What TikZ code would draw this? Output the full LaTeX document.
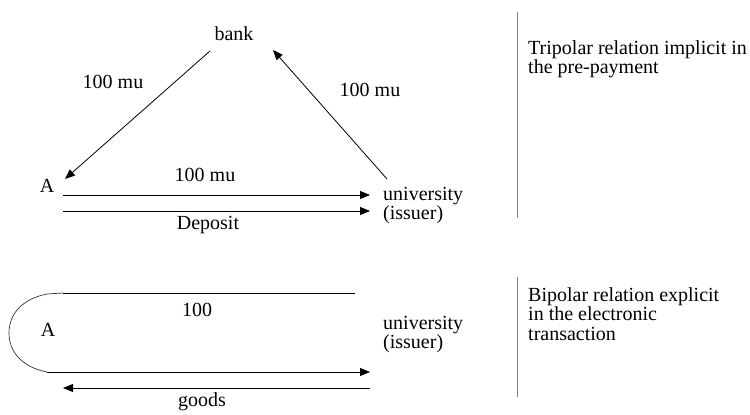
\documentclass[tikz,border=0pt]{standalone}
\usepackage{fontspec}
\setmainfont{Liberation Serif}
\usetikzlibrary{arrows.meta}

\tikzset{
	flow/.style={-{Triangle[length=10pt,width=8pt]}, line width=0.8pt},
	plain/.style={line width=0.8pt},
	sep/.style={line width=1pt, gray},
	lbl/.style={font=\fontsize{20}{19}\selectfont, inner sep=0pt},
	note/.style={font=\fontsize{20}{19.5}\selectfont, inner sep=0pt, align=left, anchor=north west},
	twoline/.style={lbl, align=left, anchor=north west},
}

\begin{document}
\begin{tikzpicture}[x=1pt, y=-1pt]
	% 750 x 415, y grows downwards
	\useasboundingbox (0,0) rectangle (750,415);

	% upper part: pre-payment
	\node[lbl] (bank) at (234,34) {bank};
	\node[lbl] (A1) at (47,186) {A};
	\node[twoline] (univ1) at (383,187) {university\\(issuer)};
	\coordinate (bankL) at (210,51);
	\coordinate (bankR) at (273,50);
	\coordinate (A1in) at (65,179);
	\coordinate (univ1out) at (387,179);
	\coordinate (A1a) at (63,195);
	\coordinate (A1b) at (63,211);
	\coordinate (univ1a) at (370,195);
	\coordinate (univ1b) at (370,211);

	\draw[flow] (bankL) -- (A1in);
	\draw[flow] (univ1out) -- (bankR);
	\draw[flow] (A1a) -- (univ1a);
	\draw[flow] (A1b) -- (univ1b);

	\node[lbl] (muL) at (113,82) {100 mu};
	\node[lbl] (muR) at (370,90) {100 mu};
	\node[lbl] (muA) at (205,175) {100 mu};
	\node[lbl] (dep) at (208,225) {Deposit};

	% lower part: electronic transaction
	\node[lbl] (A2) at (48,330) {A};
	\node[twoline] (univ2) at (383,316) {university\\(issuer)};
	\coordinate (topL) at (63,293);
	\coordinate (topR) at (355,293);
	\coordinate (botL) at (47,372);
	\coordinate (univ2a) at (370,372);
	\coordinate (univ2b) at (370,388);
	\coordinate (A2b) at (63,388);

	\draw[plain] (topL) -- (topR);
	\draw[line width=0.7pt, black!80] (topL) -- (47,294)
		.. controls (22,299) and (9,314) .. (9,333)
		.. controls (9,352) and (22,367) .. (botL);
	\draw[flow] (botL) -- (univ2a);
	\draw[flow] (univ2b) -- (A2b);

	\node[lbl] (hundred) at (197,310) {100};
	\node[lbl] (goods) at (202,402) {goods};

	% separators and notes
	\draw[sep] (517,12) -- (517,218);
	\draw[sep] (517,277) -- (517,397);
	\node[note] (tri) at (528,40) {Tripolar relation implicit in\\the pre-payment};
	\node[note] (bi) at (528,287) {Bipolar relation explicit\\in the electronic\\transaction};
\end{tikzpicture}
\end{document}
